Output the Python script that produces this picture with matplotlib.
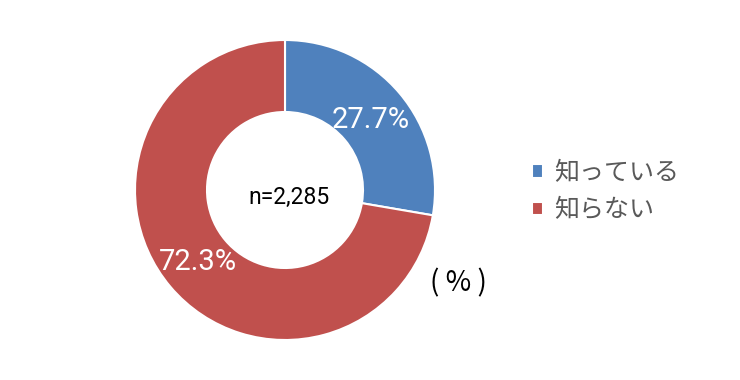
import matplotlib
matplotlib.use("Agg")
import matplotlib.pyplot as plt

plt.rcParams['font.family'] = ['Noto Sans CJK JP', 'DejaVu Sans']

labels = ['知っている', '知らない']
values = [27.7, 72.3]
colors = ['#4F81BD', '#C0504D']
n_text = 'n=2,285'

fig = plt.figure(figsize=(7.4, 3.8), dpi=100)
ax = fig.add_axes([135/740, 40/380, 300/740, 300/380])

wedges, _ = ax.pie(values, colors=colors, startangle=90, counterclock=False,
                   radius=1.0, wedgeprops=dict(width=0.48, edgecolor='white', linewidth=1.5))
ax.set_xlim(-1, 1)
ax.set_ylim(-1, 1)
ax.set_aspect('equal')

# value labels
ax.text(0.57, 0.47, f'{values[0]}%', color='white', fontsize=21, ha='center', va='center',
        family=['Roboto', 'DejaVu Sans'])
ax.text(-0.58, -0.48, f'{values[1]}%', color='white', fontsize=21, ha='center', va='center',
        family=['Roboto', 'DejaVu Sans'])
ax.text(0.03, -0.05, n_text, color='black', fontsize=16.5, ha='center', va='center',
        family=['Roboto', 'DejaVu Sans'])

leg = fig.legend(wedges, labels, loc='upper left', bbox_to_anchor=(522/740, 1 - 150/380),
                 frameon=False, fontsize=18, handlelength=0.45, handleheight=0.45,
                 handletextpad=0.45, labelspacing=0.45, borderaxespad=0)
for t in leg.get_texts():
    t.set_color('#595959')

fig.text(458/740, 1 - 283/380, '( % )', fontsize=20, ha='center', va='center', color='black')

fig.savefig('out.png', dpi=100)
